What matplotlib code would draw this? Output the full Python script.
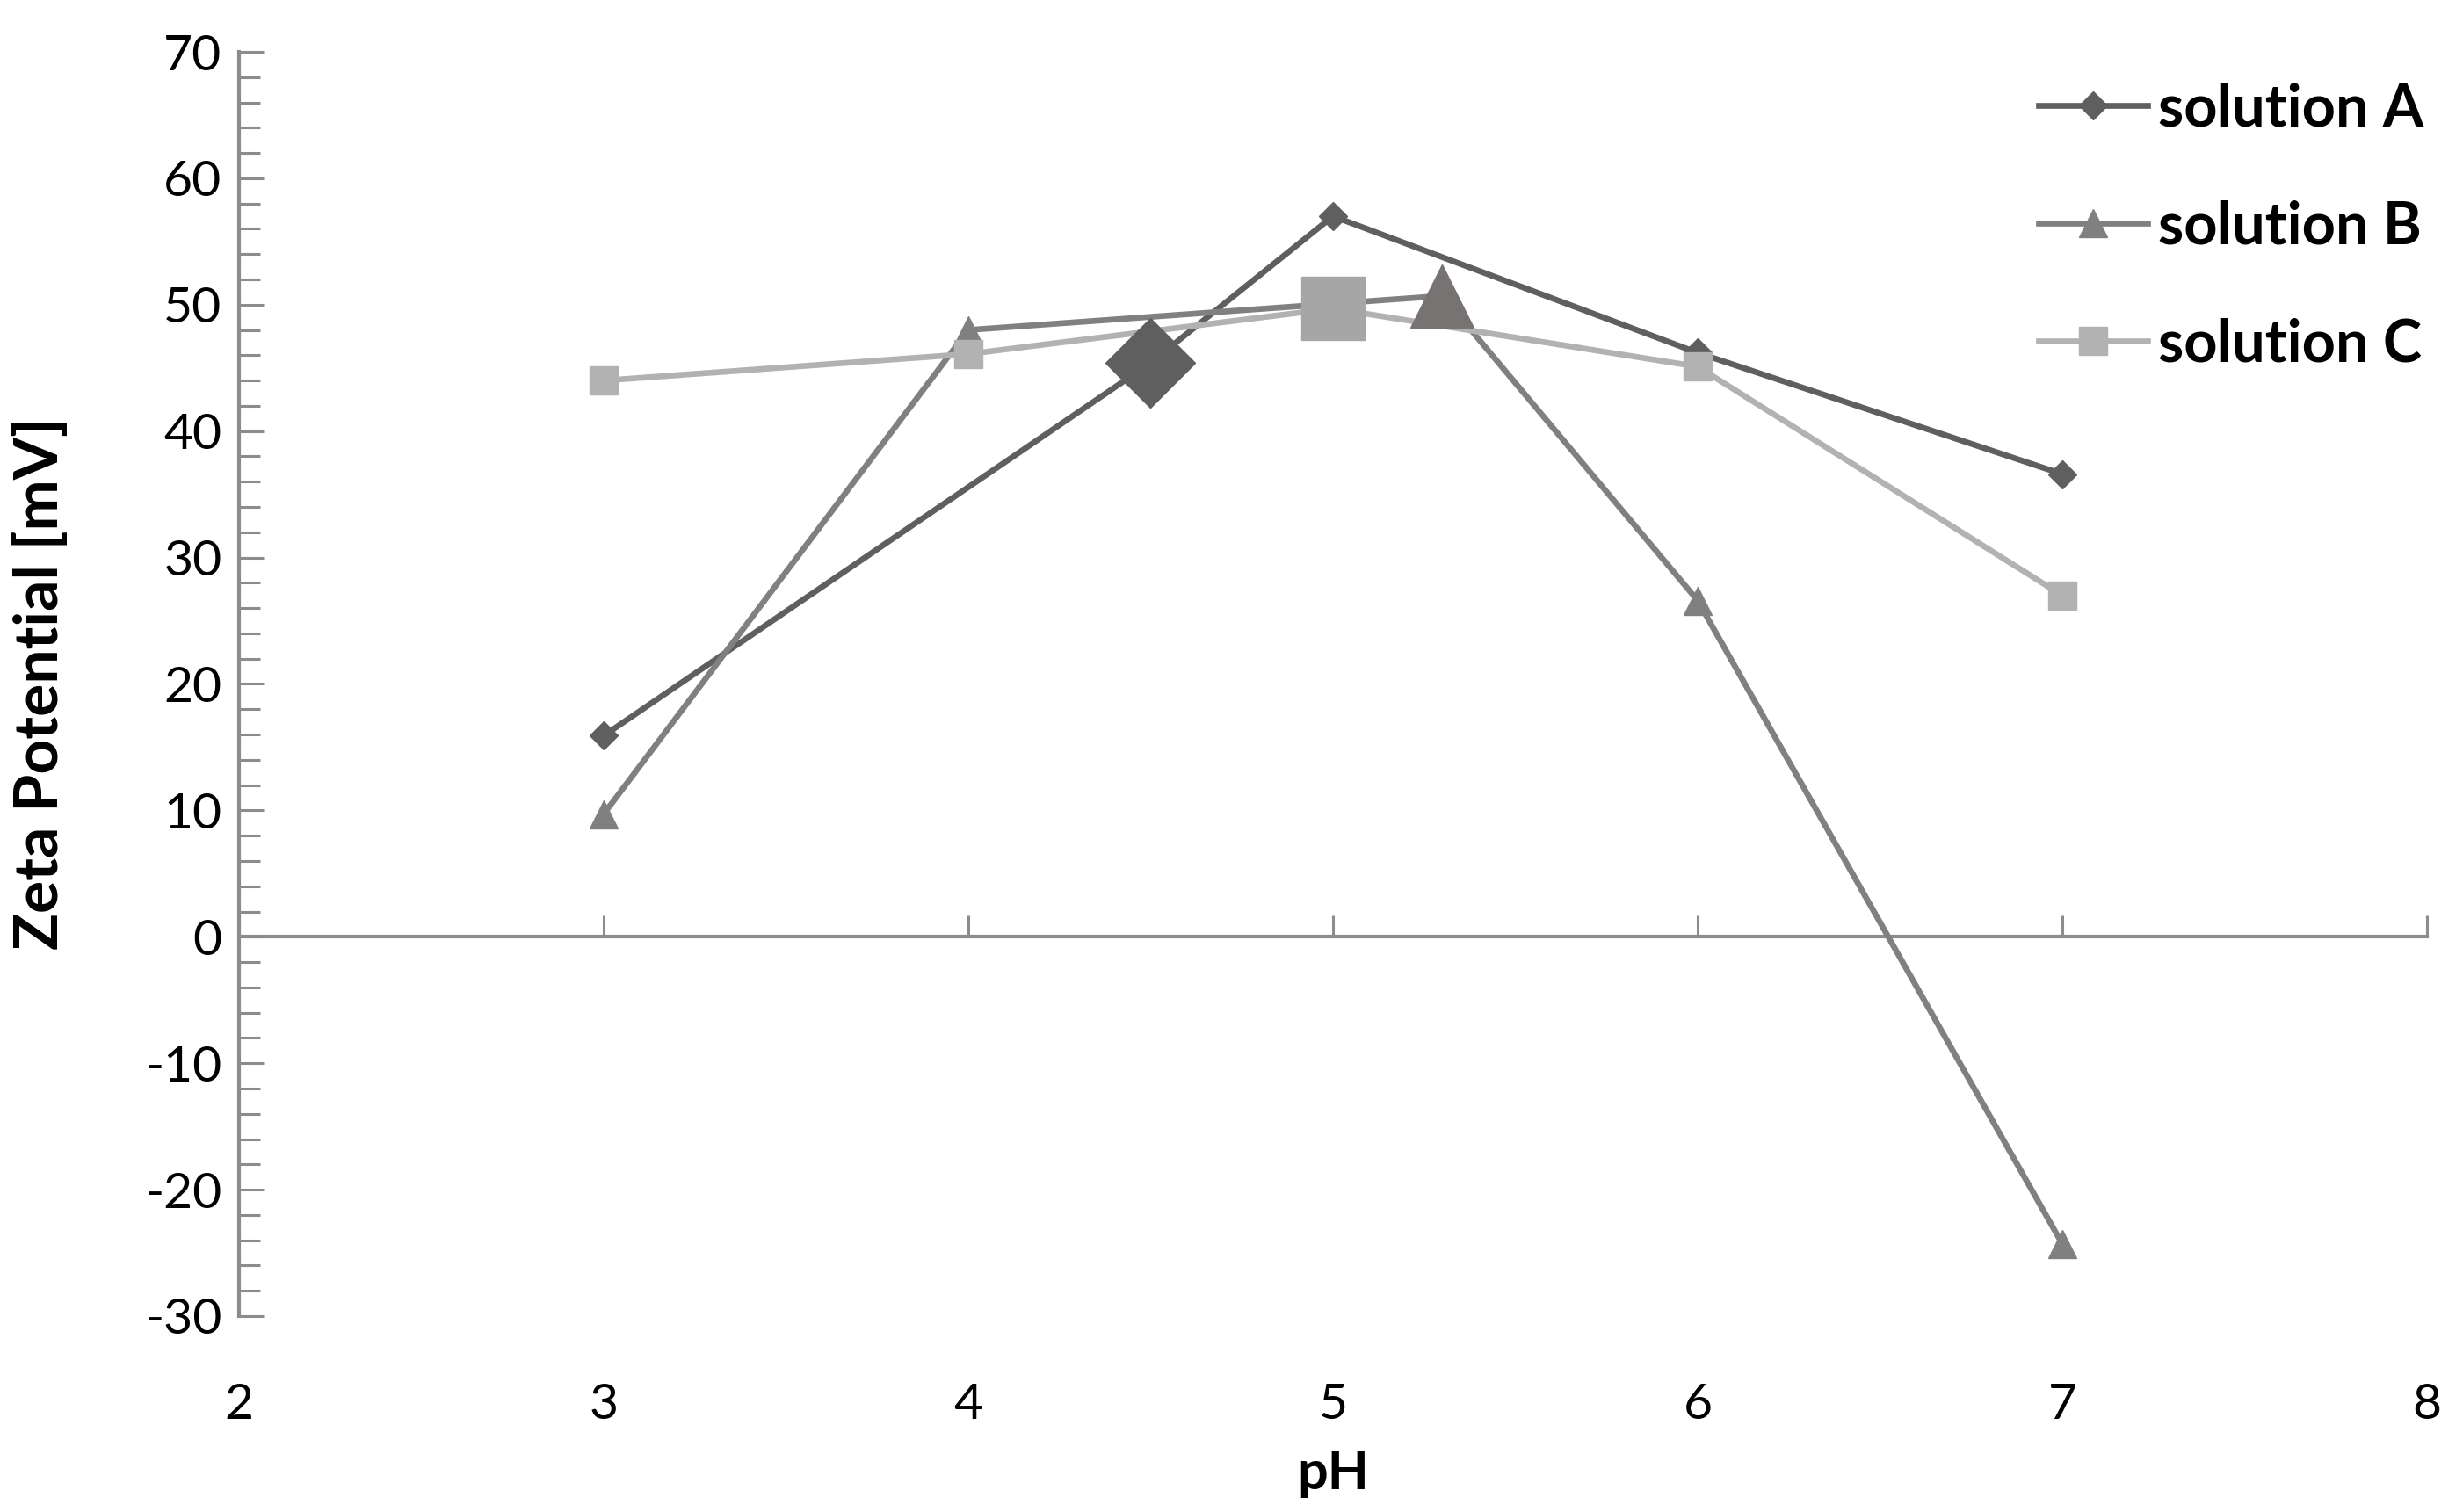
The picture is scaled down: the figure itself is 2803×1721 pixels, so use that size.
import matplotlib
matplotlib.use('Agg')
import matplotlib.pyplot as plt
from matplotlib.ticker import MultipleLocator

# data
ph_a = [3, 4.5, 5, 6, 7]
zeta_a = [15.9, 45.4, 57.0, 46.2, 36.6]
ph_b = [3, 4, 5.3, 6, 7]
zeta_b = [9.7, 48.0, 50.7, 26.6, -24.3]
ph_c = [3, 4, 5, 6, 7]
zeta_c = [44.0, 46.1, 49.7, 45.1, 27.0]
# index of the highlighted (big) point in each series
big_a, big_b, big_c = 1, 2, 2

x_ticks = [2, 3, 4, 5, 6, 7, 8]
y_ticks = [-30, -20, -10, 0, 10, 20, 30, 40, 50, 60, 70]

plt.rcParams['font.family'] = ['Lato', 'DejaVu Sans']
plt.rcParams['axes.unicode_minus'] = False

col_a = '#5f5f5f'
col_b = '#808080'
col_c = '#b2b2b2'
axis_col = '#8c8c8c'
tick_fs = 41

fig = plt.figure(figsize=(28.03, 17.21), dpi=100)
ax = fig.add_axes([0.097, 0.1296, 0.8884, 0.8361])

def others(n, skip):
    return [i for i in range(n) if i != skip]

ax.plot(ph_a, zeta_a, color=col_a, lw=4.8, marker='D', ms=16,
        markevery=others(len(ph_a), big_a), label='solution A', zorder=3)
ax.plot(ph_b, zeta_b, color=col_b, lw=4.8, marker='^', ms=23,
        markevery=others(len(ph_b), big_b), label='solution B', zorder=3)
ax.plot(ph_c, zeta_c, color=col_c, lw=4.8, marker='s', ms=23,
        markevery=others(len(ph_c), big_c), label='solution C', zorder=3)

# highlighted points
ax.plot(ph_a[big_a], zeta_a[big_a], marker='D', ms=52, color=col_a, ls='none', zorder=5)
ax.plot(ph_c[big_c], zeta_c[big_c], marker='s', ms=52, color='#a6a6a6', ls='none', zorder=4)
ax.plot(ph_b[big_b], zeta_b[big_b], marker='^', ms=52, color='#787373', ls='none', zorder=4)

ax.set_xlim(2, 8)
ax.set_ylim(-30, 70)

for s in ['top', 'right']:
    ax.spines[s].set_visible(False)
ax.spines['left'].set_color(axis_col)
ax.spines['left'].set_linewidth(3)
ax.spines['bottom'].set_color(axis_col)
ax.spines['bottom'].set_linewidth(3)
ax.spines['bottom'].set_position(('data', 0))

ax.set_yticks(y_ticks)
ax.yaxis.set_minor_locator(MultipleLocator(2))
ax.tick_params(axis='y', which='major', direction='in', length=21, width=2.2,
               color=axis_col, labelsize=tick_fs, pad=14)
ax.tick_params(axis='y', which='minor', direction='in', length=17, width=2.2,
               color=axis_col)

ax.set_xticks(x_ticks)
ax.tick_params(axis='x', direction='in', length=17, width=2.2, color=axis_col,
               labelbottom=False)

# x tick labels sit at the bottom, away from the zero line
sec = ax.secondary_xaxis('bottom')
sec.set_xticks(x_ticks)
sec.spines['bottom'].set_visible(False)
sec.tick_params(axis='x', length=0, labelsize=tick_fs, pad=55)

ax.set_ylabel('Zeta Potential [mV]', fontsize=50, fontweight='bold')
ax.yaxis.set_label_coords(-0.078, 0.5)
ax.set_xlabel('pH', fontsize=44, fontweight='bold')
ax.xaxis.set_label_coords(0.5, -0.105)

ax.legend(loc='upper left', bbox_to_anchor=(0.8277, 0.9456), bbox_transform=fig.transFigure,
          frameon=False, prop={'weight': 'bold', 'size': 48},
          handlelength=1.86, handletextpad=0.18, labelspacing=1.08,
          borderpad=0, borderaxespad=0)

fig.savefig('out.png', dpi=100)
